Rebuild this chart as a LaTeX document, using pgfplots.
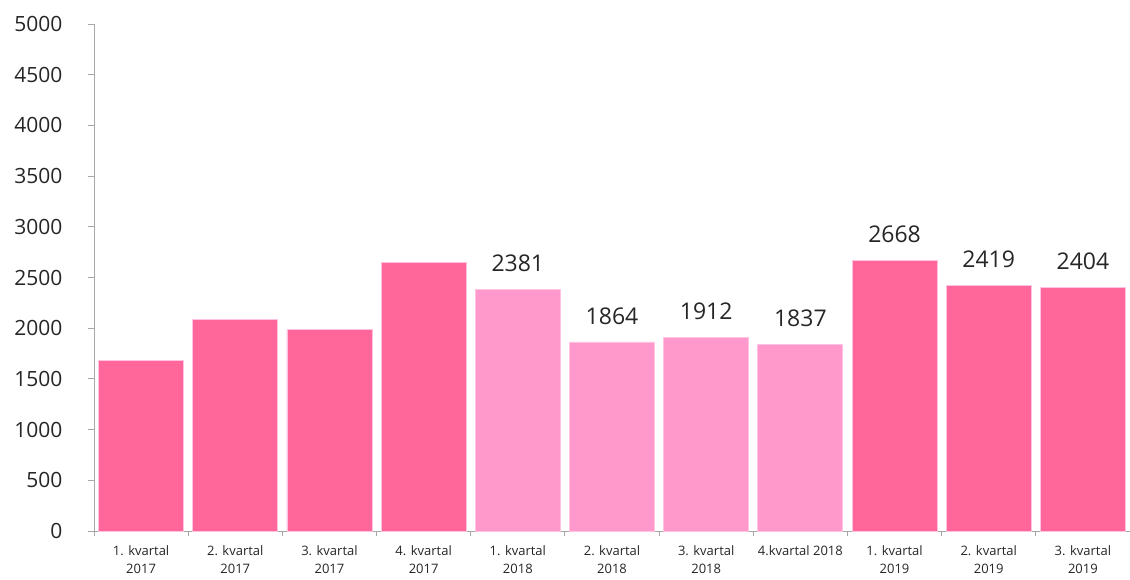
\documentclass[border=0pt]{standalone}
\usepackage{pgfplots}
\pgfplotsset{compat=1.18}
\usepackage{fontspec}
\setmainfont{Open Sans}
\definecolor{darkpink}{HTML}{FF6699}
\definecolor{lightpink}{HTML}{FF99CC}
\definecolor{axgray}{HTML}{A6A6A6}
\begin{document}
\begin{tikzpicture}[x=1pt,y=1pt]
\path[use as bounding box] (0,0) rectangle (1130,579);
\begin{axis}[
  at={(94pt,48pt)}, anchor=south west,
  scale only axis, width=1036pt, height=507pt,
  xmin=-0.5, xmax=10.5, ymin=0, ymax=5000,
  axis lines*=left,
  axis line style={axgray, line width=1pt},
  ytick={0,500,...,5000},
  yticklabel style={font=\fontsize{21}{25}\selectfont, text=black!85, xshift=-22pt},
  /pgf/number format/assume math mode=true,
  /pgf/number format/1000 sep={},
  y tick style={axgray, line width=1pt},
  tick align=outside,
  major tick length=6pt,
  xtick={0,...,10},
  x tick style={draw=none},
  minor xtick={-0.5,0.5,...,10.5},
  minor x tick style={axgray, line width=1pt, draw=axgray},
  minor tick length=5pt,
  xticklabels={{1. kvartal\\2017},{2. kvartal\\2017},{3. kvartal\\2017},{4. kvartal\\2017},{1. kvartal\\2018},{2. kvartal\\2018},{3. kvartal\\2018},{4.kvartal 2018},{1. kvartal\\2019},{2. kvartal\\2019},{3. kvartal\\2019}},
  xticklabel style={font=\fontsize{13}{18}\selectfont, align=center, anchor=north, yshift=-5pt, text=black!85},
  ybar, bar width=85pt, bar shift=0pt,
  nodes near coords style={font=\fontsize{23}{27}\selectfont, text=black!85, yshift=14pt},
  clip=false,
]
\addplot[fill=darkpink, draw=lightpink!60, line width=0.8pt] coordinates {(0,1680) (1,2090) (2,1985) (3,2645)};
\addplot[fill=lightpink, draw=lightpink!60, line width=0.8pt, nodes near coords] coordinates {(4,2381) (5,1864) (6,1912) (7,1837)};
\addplot[fill=darkpink, draw=lightpink!60, line width=0.8pt, nodes near coords] coordinates {(8,2668) (9,2419) (10,2404)};
\end{axis}
\end{tikzpicture}
\end{document}
